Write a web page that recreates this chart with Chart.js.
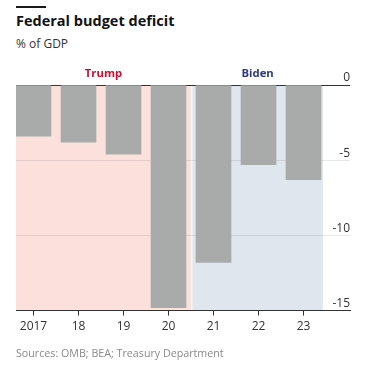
<!DOCTYPE html>
<html lang="en">
<head>
<meta charset="UTF-8">
<title>Federal budget deficit</title>
<script src="https://cdn.jsdelivr.net/npm/chart.js"></script>
<style>
  body { margin: 0; width: 366px; height: 371px; background: #fff; overflow: hidden; font-family: "Open Sans", sans-serif; position: relative; }
  #rule { position: absolute; left: 16px; top: 6px; width: 30px; height: 2px; background: #1a1a1a; }
  #title { position: absolute; left: 16px; top: 11px; font-size: 14.5px; font-weight: 700; color: #121212; }
  #sub { position: absolute; left: 16px; top: 35px; font-size: 12px; color: #333; }
  #src { position: absolute; left: 16px; top: 346px; font-size: 10.7px; color: #8a8a8a; }
  #chart { position: absolute; left: 0; top: 0; }
</style>
</head>
<body>
<div id="rule"></div>
<div id="title">Federal budget deficit</div>
<div id="sub">% of GDP</div>
<canvas id="chart" width="366" height="371"></canvas>
<div id="src">Sources: OMB; BEA; Treasury Department</div>

<script>
  // data
  const years = [2017, 2018, 2019, 2020, 2021, 2022, 2023];
  const yearLabels = ['2017', '18', '19', '20', '21', '22', '23'];
  const deficit = [-3.4, -3.8, -4.6, -14.8, -11.8, -5.3, -6.3];
  const yTicks = [0, -5, -10, -15];

  const eraNames = ['Trump', 'Biden'];
  const eraStart = [2016.61, 2020.53];
  const eraEnd = [2020.5, 2023.43];
  const eraFill = ['#fbe0dc', '#dfe6ee'];
  const eraText = ['#c8102e', '#2b3a80'];

  const eraPlugin = {
    id: 'eras',
    beforeDraw(chart) {
      const { ctx, chartArea, scales } = chart;
      ctx.save();
      eraNames.forEach((name, i) => {
        const x0 = scales.x.getPixelForValue(eraStart[i]);
        const x1 = scales.x.getPixelForValue(eraEnd[i]);
        ctx.fillStyle = eraFill[i];
        ctx.fillRect(x0, chartArea.top, x1 - x0, chartArea.bottom - chartArea.top);
        ctx.fillStyle = eraText[i];
        ctx.font = 'bold 11.3px "Open Sans"';
        ctx.textAlign = 'center';
        ctx.textBaseline = 'middle';
        ctx.fillText(name, (x0 + x1) / 2, chartArea.top - 11);
      });
      ctx.restore();
    }
  };

  const ctx = document.getElementById('chart').getContext('2d');
  new Chart(ctx, {
    type: 'bar',
    data: {
      datasets: [{
        data: years.map((y, i) => ({ x: y, y: deficit[i] })),
        backgroundColor: '#a9abab',
        barThickness: 35,
      }]
    },
    options: {
      responsive: false,
      animation: false,
      devicePixelRatio: 1,
      layout: { padding: { left: 16, right: 16, top: 85, bottom: 33 } },
      plugins: { legend: { display: false }, tooltip: { enabled: false } },
      scales: {
        x: {
          type: 'linear',
          offset: false,
          min: 2016.611,
          max: 2024.033,
          afterBuildTicks: (scale) => { scale.ticks = years.map(v => ({ value: v })); },
          grid: { offset: false, drawOnChartArea: false, drawTicks: true, tickLength: 5, color: '#333' },
          border: { display: true, color: '#333', width: 1 },
          ticks: {
            padding: 4,
            color: '#333',
            font: { family: 'Open Sans', size: 12 },
            callback: (v) => yearLabels[years.indexOf(v)],
          }
        },
        y: {
          position: 'right',
          min: -15,
          max: 0,
          afterBuildTicks: (scale) => { scale.ticks = yTicks.map(v => ({ value: v })); },
          border: { display: false },
          grid: {
            drawTicks: false,
            color: (c) => (c.tick && (c.tick.value === 0 || c.tick.value === -15)) ? '#333' : 'rgba(0,0,0,0.09)',
          },
          ticks: {
            mirror: true,
            padding: 0,
            labelOffset: -7,
            color: '#333',
            font: { family: 'Open Sans', size: 12 },
          }
        }
      }
    },
    plugins: [eraPlugin]
  });
</script>
</body>
</html>
